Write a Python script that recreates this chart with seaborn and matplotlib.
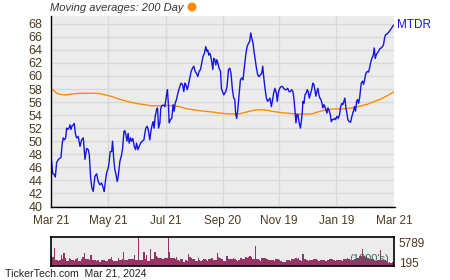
import numpy as np
import pandas as pd
import matplotlib
matplotlib.use("Agg")
import matplotlib.pyplot as plt
import matplotlib.dates as mdates
import seaborn as sns

# ---------------- data ----------------
start_date = "2023-03-21"
end_date = "2024-03-21"

price_day = [0, 1.8, 3.2, 4.6, 6.0, 7.8, 9.6, 10.6, 12.0, 13.1, 14.2, 15.6, 16.7, 17.7, 19.2, 20.2,
             21.3, 22.3, 23.8, 24.8, 25.9, 27.3, 29.0, 30.9, 32.6, 34.4, 36.2, 38.0, 39.7, 40.8,
             42.2, 43.6, 45.0, 46.8, 48.6, 50.3, 52.1, 53.9, 55.7, 56.7, 58.2,
             59.2, 61.0, 62.0, 63.1, 64.6, 65.6, 67.0, 68.1, 69.2, 70.6, 71.6, 73.4, 75.2, 76.3,
             77.7, 78.7, 79.8, 80.9, 82.2, 83.3, 84.8, 85.8, 87.2, 88.7, 90.1, 91.2, 92.6, 94.0,
             95.4, 97.2, 99.0, 100.0, 101.1, 102.5, 103.6, 105.3, 106.4, 107.8, 108.8, 109.9,
             111.0, 112.4, 113.5, 114.6, 116.0, 117.0, 118.4, 120.6,
             121.3, 123.1, 124.1, 125.2, 125.9, 127.3, 128.7, 130.1, 131.2, 132.3, 133.7, 134.8,
             136.2, 137.3, 138.6, 140.1, 141.5, 142.6, 143.6, 145.1, 146.1, 147.9, 149.3, 150.8,
             152.2, 153.6, 155.0, 156.4, 157.8, 159.3, 160.7, 162.0, 163.5, 164.9, 166.0, 167.0,
             168.1, 169.2, 170.2, 171.3, 172.4, 173.4, 174.5, 175.6, 176.6, 177.7, 179.1, 180.6,
             181.6, 182.7, 184.1,
             186.2, 187.6, 189.1, 190.5, 191.8, 193.3, 194.7, 195.8, 196.8, 197.9, 199.0, 200.4,
             201.8, 203.2, 204.6, 206.1, 207.5, 208.9, 210.4, 211.7, 212.8, 213.9, 215.3, 216.3,
             217.4, 218.9, 220.2, 221.6, 223.1, 224.5, 225.6, 226.6, 228.0, 229.5, 230.9, 232.3,
             233.3, 234.8, 235.8, 237.3, 238.6, 240.1, 241.1, 242.2, 243.6, 245.4,
             246.5, 247.9, 249.3, 250.8, 252.2, 253.6, 255.0, 256.4, 257.8, 258.9, 259.9, 261.0,
             262.1, 263.1, 264.2, 265.7, 266.7, 267.8, 268.5, 269.5, 270.6, 272.0, 273.0, 274.1,
             275.2, 276.2, 277.7, 279.0, 280.1, 281.2, 282.2, 283.3, 284.4, 285.5, 286.5, 287.6,
             288.7, 289.7, 290.8, 291.9, 292.9, 294.0, 295.1, 296.1, 297.6, 298.7, 299.7, 300.8,
             302.2, 303.2, 304.6, 306.1, 307.5,
             308.6, 310.0, 311.0, 312.1, 313.1, 314.2, 315.3, 316.3, 317.8, 319.2, 320.6, 322.1,
             323.5, 324.5, 325.6, 326.6, 327.7, 328.8, 329.8, 330.6, 332.0, 333.0, 334.1, 335.5,
             337.0, 338.4, 339.4, 340.5, 341.9, 343.4, 344.4, 345.5, 346.5, 347.6, 349.0, 350.4,
             351.9, 353.2, 354.3, 355.4, 356.4, 357.5, 358.9, 360.4, 361.8, 363.1, 365.0]

price = [47.7, 45.1, 44.9, 44.5, 46.7, 47.2, 47.4, 47.5, 49.7, 50.5, 50.2, 50.5, 52.0, 51.8, 52.0, 52.5,
         51.8, 52.3, 52.5, 52.7, 51.2, 50.5, 50.7, 49.2, 50.2, 50.5, 47.2, 48.9, 48.7, 47.9,
         44.4, 42.8, 42.3, 44.6, 45.0, 43.8, 43.3, 43.6, 42.8, 42.3, 44.1,
         45.1, 45.9, 46.9, 48.4, 48.4, 50.0, 46.9, 45.6, 44.9, 43.8, 44.6, 46.9, 47.9, 48.9,
         51.5, 51.6, 51.0, 50.0, 51.2, 49.7, 50.5, 50.0, 50.4, 49.2, 48.7, 49.7, 48.7, 49.2,
         49.7, 50.0, 50.2, 51.2, 52.0, 52.3, 51.8, 50.2, 51.5, 52.5, 53.0, 52.0,
         53.8, 54.8, 55.1, 52.0, 52.8, 55.1, 55.5, 55.5,
         55.3, 57.1, 57.9, 55.3, 52.8, 53.3, 53.5, 55.6, 54.6, 55.8, 56.4, 57.1,
         57.9, 58.4, 58.9, 58.7, 57.6, 58.9, 58.7, 57.9, 58.4, 59.7, 60.7, 61.2,
         61.5, 60.7, 60.4, 59.9, 60.7, 61.0, 62.0, 63.0, 63.5, 64.5, 63.8, 64.0,
         63.2, 63.5, 63.0, 62.2, 61.0, 62.7, 62.5, 61.7, 62.5, 62.0, 61.2, 60.7,
         58.1, 57.6, 57.1,
         57.6, 58.4, 61.0, 61.2, 60.4, 57.9, 56.6, 56.4, 54.1, 53.5, 54.8, 57.1,
         59.4, 59.7, 59.4, 61.5, 63.2, 64.5, 65.0, 65.3, 66.6, 65.8, 65.0, 63.8,
         62.7, 61.2, 60.2, 59.9, 60.2, 60.4, 61.5, 59.9, 58.1, 56.6, 56.1, 56.4,
         56.6, 55.3, 56.1, 57.4, 58.1, 57.4, 56.1, 57.4, 58.1, 58.4,
         58.4, 58.1, 57.9, 57.9, 58.1, 57.6, 57.6, 57.9, 57.6, 56.4, 54.8, 52.8,
         54.1, 54.1, 53.0, 52.0, 53.0, 54.6, 56.1, 55.8, 57.1, 57.4, 57.9, 57.6,
         56.6, 57.1, 57.9, 58.9, 58.7, 57.9, 56.9, 57.6, 58.1, 57.1, 56.6, 56.4,
         55.8, 55.1, 55.6, 55.3, 54.8, 54.3, 55.1, 54.8, 54.1, 53.0, 53.3, 53.3,
         53.5, 53.3, 53.8, 53.5, 54.1,
         55.3, 55.8, 55.6, 56.1, 56.6, 55.1, 54.3, 53.3, 53.0, 52.9, 53.8, 54.6,
         55.3, 54.6, 56.1, 56.4, 55.8, 56.6, 57.9, 58.9, 59.2, 58.7, 59.4, 60.4,
         60.7, 60.6, 61.2, 62.0, 62.7, 63.2, 64.3, 62.7, 63.2, 63.5, 63.8, 64.2,
         64.3, 64.5, 64.8, 65.8, 66.3, 66.4, 66.6, 66.8, 67.1, 67.4, 67.8]

ma_day = [0, 2.5, 6.0, 9.6, 13.1, 16.7, 20.2, 27.3, 34.4, 45.0, 52.1, 59.2, 64.6, 71.6, 78.7,
          85.8, 92.9, 100.0, 107.1, 114.2, 123.1, 130.1, 137.3, 144.4, 151.4, 158.5, 165.7,
          172.7, 179.8, 186.9, 194.0, 201.1, 208.2, 215.3, 222.4, 229.5, 236.5, 243.7, 250.8,
          257.8, 264.9, 272.0, 279.0, 282.7, 286.2, 293.3, 300.4, 307.5, 309.3, 316.3, 323.5,
          330.6, 337.6, 344.7, 351.9, 358.9, 365.0]
ma = [58.1, 57.8, 57.35, 57.2, 57.1, 57.1, 57.2, 57.3, 57.35, 57.35, 57.3, 57.05, 56.86, 56.5,
      56.2, 55.94, 55.74, 55.59, 55.43, 55.43, 55.48, 55.43, 55.28, 54.97, 54.82, 54.67, 54.56,
      54.46, 54.31, 54.21, 54.16, 54.21, 54.46, 54.72, 54.82, 54.77, 54.56, 54.41, 54.31,
      54.21, 54.16, 54.16, 54.21, 54.41, 54.56, 54.82, 54.92, 54.97, 54.92, 55.02, 55.18,
      55.43, 55.69, 56.1, 56.5, 57.02, 57.55]

# daily volume, thousands of shares (one value per trading day)
volume = [1840, 1630, 3470, 1090, 1120, 1000, 1150, 2100, 1300, 2450, 1560,
          950, 900, 1430, 1400, 1020, 1050, 980, 1300, 1500, 880,
          900, 1300, 1630, 2450, 1300, 1250, 1320, 1020, 2180, 1090,
          1050, 1020, 980, 1060, 750, 800, 1160, 1120, 1200, 950,
          980, 1300, 1280, 1770, 1020, 1000, 820, 850, 1560, 1090,
          1060, 1300, 2650, 1160, 1120, 1180, 1300, 1260, 1360, 1340,
          2100, 1160, 1140, 5789, 1160, 1120, 1180, 2650, 1300, 2180,
          950, 980, 3330, 1300, 1280, 2650, 1840, 1800, 1560, 1520,
          1430, 1400, 1460, 1560, 1540, 5500, 2650, 1560, 1520, 1430,
          1400, 1630, 1020, 1000, 1300, 1280, 750, 780, 1020, 1000,
          2310, 1630, 1600, 1300, 1280, 950, 980, 1430, 1020, 1000,
          1050, 1300, 1280, 1020, 1000, 1300, 1280, 1560, 1090, 1060,
          1100, 2520, 1630, 1600,
          1300, 1280, 950, 920, 1840, 1300,
          1280, 1320, 1300, 1430, 1400, 1020, 1000, 1050, 1560, 1540,
          1300, 1280, 1630, 1600, 1650, 1840, 1800, 1300, 1280, 3880,
          1300, 1280, 1020, 1000, 1560, 1540, 1580, 1300, 1280, 1160,
          1140, 1180, 1020, 1000, 1300, 1280, 1320, 1020, 1000, 750,
          780, 760, 1160, 1140, 1020, 1000, 1300, 1280, 1320, 1430,
          1400, 1460, 1020, 1000, 2380, 1300, 1280, 1020, 1000, 1050,
          1160, 1140, 1300, 1280, 1320, 1020, 1000, 1160, 1140, 1180,
          1020, 1000, 1160, 1140, 1300, 1280, 1320, 1020, 1000, 1160,
          1140, 1180, 1020, 1000, 1300, 1280, 1320, 1430, 1400, 1020,
          1000, 1050, 1300, 1280, 1560, 1540, 1980, 1950, 3330, 1840,
          1800, 1860, 1430, 1400, 1300, 1280, 1320, 1020, 1000, 1160,
          1140, 3200, 1160, 1140, 1180, 1020, 1000, 610, 650, 600,
          620, 640]
vol_max_label = "5789"
vol_min_label = "195"

x_tick_dates = ["2023-03-21", "2023-05-21", "2023-07-21", "2023-09-20",
                "2023-11-19", "2024-01-19", "2024-03-21"]
x_tick_labels = ["Mar 21", "May 21", "Jul 21", "Sep 20", "Nov 19", "Jan 19", "Mar 21"]
y_ticks = list(range(40, 70, 2))

ticker = "MTDR"
title_text = "Moving averages: 200 Day"
footer = "TickerTech.com  Mar 21, 2024"
vol_unit = "(1000's)"

# ---------------- style ----------------
sns.set_style("white")
plt.rcParams["font.family"] = ["Liberation Sans", "DejaVu Sans"]

TXT = "#4a3b1e"
BG = "#ececec"
GRID = "#d9d9d9"
BLUE = "#1515e6"
ORANGE = "#ff8c00"
VOL = "#993366"

t0 = pd.Timestamp(start_date)
dates = t0 + pd.to_timedelta(price_day, unit="D")
ma_dates = t0 + pd.to_timedelta(ma_day, unit="D")
df = pd.DataFrame({"date": dates, "price": price})
dfm = pd.DataFrame({"date": ma_dates, "ma": ma})

fig = plt.figure(figsize=(4.5, 2.8), dpi=100)
ax = fig.add_axes([51 / 450, 1 - 207 / 280, 343.5 / 450, 191 / 280])
ax.set_facecolor(BG)

sns.lineplot(data=dfm, x="date", y="ma", color=ORANGE, linewidth=1.0, ax=ax,
             estimator=None, sort=False)
sns.lineplot(data=df, x="date", y="price", color=BLUE, linewidth=1.0, ax=ax,
             estimator=None, sort=False)

ymin, ymax = 39.9, 69.2
ax.set_xlim(pd.Timestamp(start_date), pd.Timestamp(end_date))
ax.set_ylim(ymin, ymax)
ax.set_xlabel("")
ax.set_ylabel("")

major = pd.to_datetime(x_tick_dates)
ax.set_xticks(major)
ax.set_xticklabels(x_tick_labels)
minor = major[:-1] + (major[1:] - major[:-1]) / 2
ax.set_xticks(minor, minor=True)
ax.set_yticks(y_ticks)
ax.set_yticks(range(40, 70), minor=True)

ax.grid(True, which="major", color=GRID, linewidth=1.0)
ax.set_axisbelow(True)
for s in ["top", "right"]:
    ax.spines[s].set_visible(False)
for s in ["left", "bottom"]:
    ax.spines[s].set_color("black")
    ax.spines[s].set_linewidth(1.0)
ax.tick_params(axis="both", which="both", direction="in", colors="black",
               labelcolor=TXT, labelsize=8.5, width=0.8)
ax.tick_params(axis="y", which="major", labelsize=9)
ax.tick_params(axis="x", which="major", length=4, pad=6)
ax.tick_params(axis="x", which="minor", length=3)
ax.tick_params(axis="y", which="major", length=3, pad=6)
ax.tick_params(axis="y", which="minor", length=2)

ax.text(1.006, (67.85 - ymin) / (ymax - ymin), ticker, transform=ax.transAxes,
        color=BLUE, fontsize=8.5, va="center", ha="left")

fig.text(50 / 450, 1 - 8 / 280, title_text, fontsize=8, style="italic",
         color="#333333", va="center", ha="left")
fig.add_artist(matplotlib.patches.Ellipse((192 / 450, 1 - 7 / 280), 9 / 450, 9 / 280,
                                          transform=fig.transFigure, color=ORANGE, lw=0))

# ---------------- volume panel ----------------
axv = fig.add_axes([51 / 450, 1 - 265.5 / 280, 343.5 / 450, 29 / 280])
axv.set_facecolor(BG)
n = len(volume)
vdf = pd.DataFrame({"i": np.arange(n), "vol": volume})
sns.barplot(data=vdf, x="i", y="vol", color=VOL, saturation=1, width=1.0,
            linewidth=0, native_scale=True, ax=axv, errorbar=None)
axv.set_xlim(-0.5, n - 0.5)
axv.set_ylim(0, 5789 * 1.02)
axv.set_xticks([])
axv.set_xlabel("")
axv.set_ylabel("")
axv.yaxis.tick_right()
axv.set_yticks([5789 * 0.8, 5789 * 0.12])
axv.set_yticklabels([vol_max_label, vol_min_label])
axv.tick_params(axis="y", length=0, pad=3, labelcolor=TXT, labelsize=8.5)
for s in axv.spines.values():
    s.set_visible(True)
    s.set_color("black")
    s.set_linewidth(1.2)
axv.text(0.985, 0.22, vol_unit, transform=axv.transAxes, color="#3d6b5a",
         fontsize=8, ha="right", va="center")

fig.text(5 / 450, 1 - 274 / 280, footer, fontsize=7.6, color="#222222",
         va="center", ha="left")

fig.savefig("out.png", dpi=100)
